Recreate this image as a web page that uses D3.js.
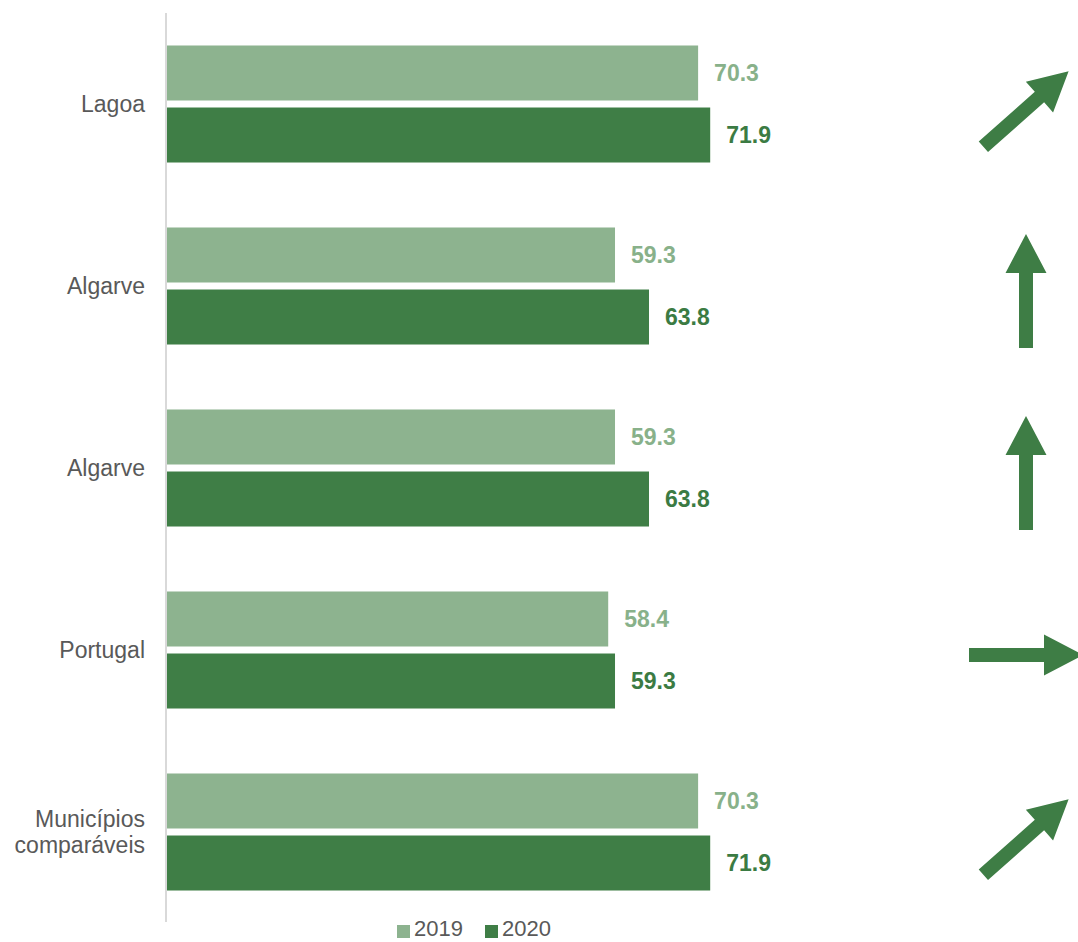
<!DOCTYPE html>
<html>
<head>
<meta charset="utf-8">
<script src="https://cdn.jsdelivr.net/npm/d3@7"></script>
<style>
  html, body { margin: 0; padding: 0; background: #ffffff; }
  svg { display: block; font-family: "Liberation Sans", Arial, sans-serif; }
</style>
</head>
<body>
<svg id="chart" width="1078" height="942"></svg>
<script>
// ---- data ----
const categories = ["Lagoa", "Algarve", "Algarve", "Portugal", "Municípios comparáveis"];
const series = ["2019", "2020"];
const values2019 = [70.3, 59.3, 59.3, 58.4, 70.3];
const values2020 = [71.9, 63.8, 63.8, 59.3, 71.9];
const trends = ["up-right", "up", "up", "right", "up-right"];

// ---- layout ----
const W = 1078, H = 942;
const x0 = 167;
const pxPerUnit = 7.555;
const svg = d3.select("#chart");

const colors = { "2019": "#8db38f", "2020": "#3f7e46" };
const labelColors = { "2019": "#88b18a", "2020": "#3b7b43" };

const x = d3.scaleLinear().domain([0, 100]).range([x0, x0 + 100 * pxPerUnit]);
const y0 = d3.scaleBand().domain(d3.range(categories.length)).range([13, 923]).padding(0);
const y1 = d3.scaleBand().domain(series).range([0, y0.bandwidth()])
  .paddingInner(0.113).paddingOuter(0.524);

const rows = categories.map((c, i) => ({
  i, name: c,
  vals: [{ s: "2019", v: values2019[i] }, { s: "2020", v: values2020[i] }],
  trend: trends[i]
}));

// axis line
svg.append("line")
  .attr("x1", 166).attr("x2", 166)
  .attr("y1", 13).attr("y2", 922)
  .attr("stroke", "#d9d9d9").attr("stroke-width", 2);

const g = svg.selectAll("g.row").data(rows).join("g")
  .attr("class", "row")
  .attr("transform", d => `translate(0,${y0(d.i)})`);

g.selectAll("rect").data(d => d.vals).join("rect")
  .attr("x", x(0))
  .attr("y", d => y1(d.s))
  .attr("width", d => x(d.v) - x(0))
  .attr("height", y1.bandwidth())
  .attr("fill", d => colors[d.s]);

g.selectAll("text.val").data(d => d.vals).join("text")
  .attr("class", "val")
  .attr("x", d => x(d.v) + 16)
  .attr("y", d => y1(d.s) + y1.bandwidth() / 2)
  .attr("dy", "0.35em")
  .attr("font-size", 23)
  .attr("font-weight", "bold")
  .attr("fill", d => labelColors[d.s])
  .text(d => d.v.toFixed(1));

// category labels
g.each(function(d) {
  const words = d.name.split(" ");
  const lh = 26;
  const t = d3.select(this).append("text")
    .attr("text-anchor", "end")
    .attr("font-size", 23)
    .attr("fill", "#595959");
  words.forEach((w, k) => {
    t.append("tspan")
      .attr("x", 145)
      .attr("y", y0.bandwidth() / 2 + (k - (words.length - 1) / 2) * lh)
      .attr("dy", "0.35em")
      .text(w);
  });
});

// trend arrows
const angle = { "up": 0, "right": 90, "up-right": 48.4, "down": 180, "down-right": 131.6 };
const L = 114, headL = 39, headW = 41, shaftW = 14;
const arrowPath = d3.path();
arrowPath.moveTo(-shaftW / 2, L / 2);
arrowPath.lineTo(-shaftW / 2, -L / 2 + headL);
arrowPath.lineTo(-headW / 2, -L / 2 + headL);
arrowPath.lineTo(0, -L / 2);
arrowPath.lineTo(headW / 2, -L / 2 + headL);
arrowPath.lineTo(shaftW / 2, -L / 2 + headL);
arrowPath.lineTo(shaftW / 2, L / 2);
arrowPath.closePath();

svg.selectAll("path.arrow").data(rows).join("path")
  .attr("class", "arrow")
  .attr("d", arrowPath.toString())
  .attr("fill", "#3e7d45")
  .attr("transform", d => `translate(1026,${y0(d.i) + y0.bandwidth() / 2 + 5}) rotate(${angle[d.trend]})`);

// legend
const legend = svg.append("g");
const legendItems = [{ s: "2019", x: 397 }, { s: "2020", x: 485 }];
legendItems.forEach(it => {
  legend.append("rect")
    .attr("x", it.x).attr("y", 925)
    .attr("width", 13).attr("height", 13)
    .attr("fill", colors[it.s]);
  legend.append("text")
    .attr("x", it.x + 17).attr("y", 936)
    .attr("font-size", 22)
    .attr("fill", "#595959")
    .text(it.s);
});
</script>
</body>
</html>
